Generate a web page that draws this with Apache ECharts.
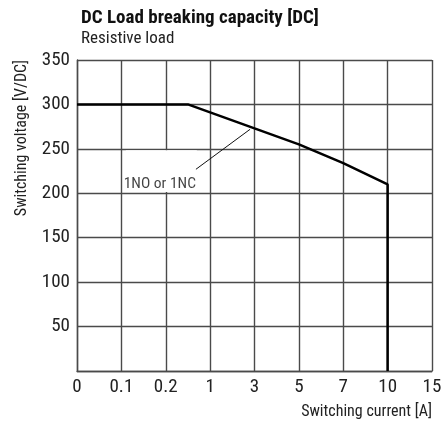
<!DOCTYPE html>
<html><head><meta charset="utf-8">
<script src="https://cdn.jsdelivr.net/npm/echarts@6/dist/echarts.min.js"></script>
<style>html,body{margin:0;padding:0;background:#fff}#c{width:446px;height:428px}</style>
</head><body><div id="c"></div>
<script>
const xTickLabels = ['0', '0.1', '0.2', '1', '3', '5', '7', '10', '15'];
const yTicks = [0, 50, 100, 150, 200, 250, 300, 350];
// curve points: [position on the (non-linear) x scale, switching voltage V/DC]
const curveX = [0, 2.5, 4, 5, 6, 7, 7];
const curveY = [300, 300, 273, 255, 234, 210, 0];
const leaderX = [2.68, 3.9];
const leaderY = [227, 272];
const labelText = '1NO or 1NC';
const FONT = '"Liberation Sans Narrow", "Roboto Condensed", "Liberation Sans", sans-serif';
const GRID_LINE = {color: '#4a4a4a', width: 1.4};

const chart = echarts.init(document.getElementById('c'));
chart.setOption({
  animation: false,
  title: {
    text: 'DC Load breaking capacity [DC]',
    subtext: 'Resistive load',
    left: 76, top: 4, itemGap: 2,
    textStyle: {fontFamily: FONT, fontWeight: 'bold', fontSize: 19, color: '#111'},
    subtextStyle: {fontFamily: FONT, fontSize: 17, color: '#222'}
  },
  grid: {left: 77, right: 14, top: 60, bottom: 57},
  xAxis: {
    type: 'value', min: 0, max: 8, interval: 1,
    axisLine: {show: true, lineStyle: GRID_LINE},
    axisTick: {show: false},
    splitLine: {show: true, lineStyle: GRID_LINE},
    axisLabel: {
      fontFamily: FONT, fontSize: 19, color: '#222', margin: 7,
      formatter: v => xTickLabels[v] ?? ''
    },
    name: 'Switching current [A]', nameLocation: 'end', nameGap: 0,
    nameTextStyle: {fontFamily: FONT, fontSize: 16, color: '#222', align: 'right', verticalAlign: 'top', padding: [33, 0, 0, 0]}
  },
  yAxis: {
    type: 'value', min: 0, max: 350, interval: 50,
    axisLine: {show: true, lineStyle: GRID_LINE},
    axisTick: {show: false},
    splitLine: {show: true, lineStyle: GRID_LINE},
    axisLabel: {
      fontFamily: FONT, fontSize: 19, color: '#222', margin: 7,
      formatter: v => (v === 0 ? '' : String(v))
    }
  },
  graphic: [{
    type: 'text', x: 22, y: 60, rotation: Math.PI / 2,
    style: {text: 'Switching voltage [V/DC]', font: '16px ' + FONT, fill: '#222', align: 'right', verticalAlign: 'middle'}
  }],
  series: [
    {
      type: 'scatter', symbolSize: 0, z: 1,
      data: [[2.68, 212.7]],
      label: {show: true, formatter: labelText, position: 'left', distance: 0,
        fontFamily: FONT, fontSize: 15.5, color: '#111', offset: [0, 2]},
      markArea: {
        silent: true,
        itemStyle: {color: '#fff', opacity: 1},
        data: [[{coord: [1.1, 201.5]}, {coord: [2.7, 248.5]}]]
      }
    },
    {
      type: 'line', symbol: 'none', z: 3,
      data: curveX.map((x, i) => [x, curveY[i]]),
      lineStyle: {color: '#000', width: 2.5}
    },
    {
      type: 'line', symbol: 'none', z: 3,
      data: leaderX.map((x, i) => [x, leaderY[i]]),
      lineStyle: {color: '#111', width: 1}
    }
  ]
});
</script></body></html>
